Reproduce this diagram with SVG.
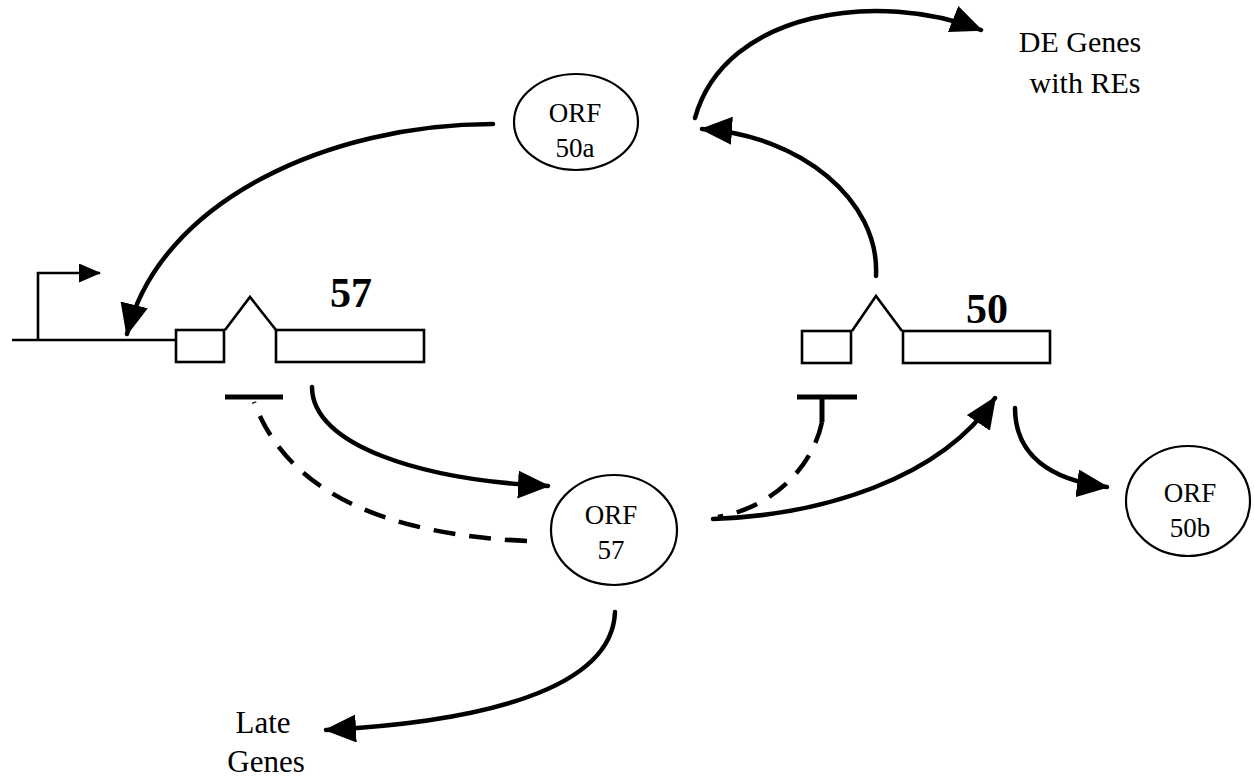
<svg xmlns="http://www.w3.org/2000/svg" width="1254" height="780" viewBox="0 0 1254 780">
<style>
  .gene { fill: #fff; stroke: #000; stroke-width: 2.6; }
  .thin { fill: none; stroke: #000; stroke-width: 2.6; }
  .arc { fill: none; stroke: #000; stroke-width: 4.5; stroke-linecap: round; }
  .dash { fill: none; stroke: #000; stroke-width: 4.5; stroke-dasharray: 22 14; }
  .bar { stroke: #000; stroke-width: 5; }
  .orf { fill: #fff; stroke: #000; stroke-width: 2.2; }
  .lbl { font-family: "Liberation Serif", "Times New Roman", serif; fill: #000; text-anchor: middle; }
  .orft { font-size: 27px; }
  .big { font-size: 30px; }
  .late { font-size: 31px; }
  .num { font-size: 42px; font-weight: bold; }
</style>
<defs>
  <marker id="ah" viewBox="0 0 32 28" refX="30" refY="14" markerWidth="32" markerHeight="28" markerUnits="userSpaceOnUse" orient="auto" preserveAspectRatio="none">
    <path d="M0,0 L32,14 L0,28 z" fill="#000"/>
  </marker>
  <marker id="ahs" viewBox="0 0 22 19" refX="21" refY="9.5" markerWidth="22" markerHeight="19" markerUnits="userSpaceOnUse" orient="auto" preserveAspectRatio="none">
    <path d="M0,0 L22,9.5 L0,19 z" fill="#000"/>
  </marker>
</defs>

<g id="gene57">
  <path class="thin" d="M12,340 H176"/>
  <path class="thin" d="M38,340 V273 H100" marker-end="url(#ahs)"/>
  <rect class="gene" x="176" y="330" width="48" height="32"/>
  <path class="thin" d="M225,330 L250,297 L276,330"/>
  <rect class="gene" x="276" y="330" width="148" height="32"/>
  <text class="lbl num" x="351" y="307">57</text>
  <line class="bar" x1="225" y1="397" x2="283" y2="397"/>
</g>

<g id="gene50">
  <rect class="gene" x="802" y="331" width="49" height="32"/>
  <path class="thin" d="M852,331 L876,296 L902,331"/>
  <rect class="gene" x="903" y="331" width="147" height="32"/>
  <text class="lbl num" x="987" y="323">50</text>
  <line class="bar" x1="797" y1="397" x2="857" y2="397"/>
  <line class="bar" x1="822" y1="397" x2="822" y2="422"/>
</g>

<g id="orf50a">
  <ellipse class="orf" cx="576" cy="122" rx="62" ry="48"/>
  <text class="lbl orft" x="575" y="122">ORF</text>
  <text class="lbl orft" x="575" y="157">50a</text>
</g>

<g id="orf57">
  <ellipse class="orf" cx="614" cy="530" rx="63" ry="55"/>
  <text class="lbl orft" x="611" y="524">ORF</text>
  <text class="lbl orft" x="611" y="559">57</text>
</g>

<g id="orf50b">
  <ellipse class="orf" cx="1188" cy="501" rx="62" ry="55"/>
  <text class="lbl orft" x="1190" y="502">ORF</text>
  <text class="lbl orft" x="1190" y="537">50b</text>
</g>

<g id="degenes">
  <text class="lbl big" x="1080" y="52">DE Genes</text>
  <text class="lbl big" x="1085" y="93">with REs</text>
</g>

<g id="lategenes">
  <text class="lbl late" x="263" y="733">Late</text>
  <text class="lbl late" x="266" y="772">Genes</text>
</g>

<g id="connectors">
  <path class="arc" d="M493,124 C330,124 160,200 127,334" marker-end="url(#ah)"/>
  <path class="arc" d="M312,387 C312,445 420,480 548,486" marker-end="url(#ah)"/>
  <path class="dash" d="M527,541 C400,535 290,500 254,402"/>
  <path class="arc" d="M713,519 C820,515 940,480 995,398" marker-end="url(#ah)"/>
  <path class="dash" d="M822,422 C812,470 770,508 718,517"/>
  <path class="arc" d="M876,276 C880,200 800,135 702,129" marker-end="url(#ah)"/>
  <path class="arc" d="M695,118 C725,10 880,-10 981,30" marker-end="url(#ah)"/>
  <path class="arc" d="M1015,408 C1015,455 1050,480 1107,487" marker-end="url(#ah)"/>
  <path class="arc" d="M615,612 C612,690 480,722 326,730" marker-end="url(#ah)"/>
</g>
</svg>
